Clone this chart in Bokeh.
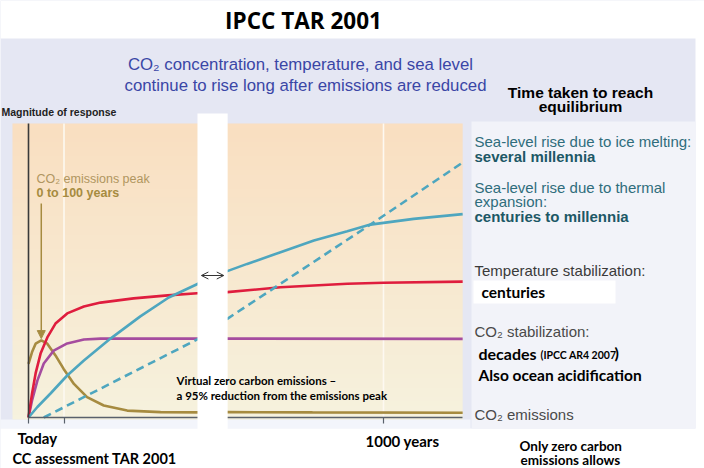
import numpy as np
from bokeh.plotting import figure
from bokeh.models import Range1d, BoxAnnotation, Label, Arrow, NormalHead, OpenHead, FixedTicker
from bokeh.embed import file_html
from bokeh.resources import INLINE

# ---------------- data (years after today, relative magnitude) ----------------
years_emissions = [0, 10, 20, 36, 53, 76, 99, 128, 165, 212, 278, 372, 485, 560, 800, 1223]
co2_emissions = [0.179, 0.218, 0.246, 0.257, 0.246, 0.207, 0.162, 0.112, 0.068, 0.040, 0.023,
                 0.018, 0.017, 0.018, 0.017, 0.016]

years_co2 = [0, 10, 25, 43, 71, 109, 156, 203, 485, 1223]
co2_concentration = [0, 0.057, 0.123, 0.18, 0.223, 0.247, 0.26, 0.263, 0.263, 0.262]

years_temp = [0, 10, 20, 34, 53, 76, 109, 156, 203, 296, 392, 485, 560, 710, 898, 1000, 1223]
temperature = [0, 0.08, 0.147, 0.213, 0.267, 0.313, 0.347, 0.37, 0.383, 0.397, 0.407, 0.415,
               0.418, 0.434, 0.446, 0.449, 0.453]

years_thermal = [0, 25, 62, 109, 156, 231, 315, 395, 485, 560, 616, 710, 804, 898, 963, 1085, 1223]
sea_level_thermal = [0, 0.035, 0.08, 0.14, 0.19, 0.263, 0.337, 0.40, 0.45, 0.488, 0.512, 0.551,
                     0.59, 0.621, 0.643, 0.662, 0.678]

years_ice = [43, 485, 560, 963, 1223]
sea_level_ice = [0, 0.266, 0.329, 0.643, 0.85]

tick_years = [0, 100, 1000]
axis_break = [476, 561]          # span of years hidden by the white break bar

# ---------------- layout helpers (picture pixels -> data) ----------------
W, H = 704, 468
X0_PX, PX_PER_YEAR = 28, 0.355
Y0_PX, PX_PER_UNIT = 417, 300.0


def xd(px):
    return (px - X0_PX) / PX_PER_YEAR


def yd(py):
    return (Y0_PX - py) / PX_PER_UNIT


year_end = max(years_emissions + years_co2 + years_temp + years_thermal + years_ice)
chart_top = yd(123)

OLIVE = "#a68b40"
RED = "#df1d3e"
PURPLE = "#a54c9f"
TEAL = "#4ea6bf"

p = figure(width=W, height=H, x_range=Range1d(xd(0), xd(W)), y_range=Range1d(yd(H), yd(0)),
           output_backend="svg", toolbar_location=None, min_border=0,
           background_fill_color="#e5e7f3", border_fill_color="white", outline_line_color=None)
p.grid.visible = False

# axes (ticks only, no numeric labels)
xa = p.xaxis[0]
xa.fixed_location = 0
xa.ticker = FixedTicker(ticks=[], minor_ticks=tick_years)
xa.bounds = (0, year_end)
xa.minor_tick_in = 0
xa.minor_tick_out = 6
xa.minor_tick_line_color = "#59606b"
xa.minor_tick_line_width = 1.2
xa.major_tick_line_color = None
xa.axis_line_color = "#59606b"
xa.axis_line_width = 1.6

ya = p.yaxis[0]
ya.fixed_location = 0
ya.ticker = FixedTicker(ticks=[])
ya.bounds = (0, chart_top)
ya.major_tick_line_color = None
ya.minor_tick_line_color = None
ya.axis_line_color = "#3a3a3a"
ya.axis_line_width = 1.6

# background panels
p.add_layout(BoxAnnotation(left=xd(0), right=xd(W), top=yd(0), bottom=yd(38), fill_color="white",
                           fill_alpha=1, line_color=None, level="underlay"))
p.add_layout(BoxAnnotation(left=xd(0), right=xd(470), top=yd(419), bottom=yd(428), fill_color="#f3f5fb",
                           fill_alpha=1, line_color=None, level="underlay"))
p.add_layout(BoxAnnotation(left=xd(0), right=xd(W), top=yd(428), bottom=yd(H), fill_color="white",
                           fill_alpha=1, line_color=None, level="underlay"))
p.add_layout(BoxAnnotation(left=xd(695), right=xd(W), top=yd(0), bottom=yd(H), fill_color="white",
                           fill_alpha=1, line_color=None, level="underlay"))
p.add_layout(BoxAnnotation(left=xd(471), right=xd(695), top=yd(121), bottom=yd(428), fill_color="#f2f3f9",
                           fill_alpha=1, line_color=None, level="underlay"))

# beige gradient behind the chart
n = 64
top_c = np.array([0xfa, 0xdf, 0xc1], dtype=float)
bot_c = np.array([0xf6, 0xf2, 0xde], dtype=float)
t = np.linspace(0, 1, n)[:, None]
rgb = bot_c * (1 - t) + top_c * t
img = np.zeros((n, 1), dtype=np.uint32)
view = img.view(dtype=np.uint8).reshape((n, 1, 4))
view[:, 0, 0:3] = rgb.astype(np.uint8)
view[:, 0, 3] = 255
p.image_rgba(image=[img], x=xd(12), y=yd(419), dw=year_end - xd(12), dh=chart_top - yd(419))

# faint vertical guide lines at 100 and 1000 years
guides = tick_years[1:]
p.segment(x0=guides, y0=[0] * len(guides), x1=guides, y1=[chart_top] * len(guides),
          line_color="#fdf9f1", line_width=1.6)

# curves
p.line(years_emissions, co2_emissions, line_color=OLIVE, line_width=2.6)
p.line(years_co2, co2_concentration, line_color=PURPLE, line_width=2.6)
p.line(years_temp, temperature, line_color=RED, line_width=2.6)
p.line(years_thermal, sea_level_thermal, line_color=TEAL, line_width=2.6)
p.line(years_ice, sea_level_ice, line_color=TEAL, line_width=2.6, line_dash="8 5")

# arrow to emissions peak
pk = int(np.argmax(co2_emissions))
p.add_layout(Arrow(x_start=years_emissions[pk], y_start=yd(203), x_end=years_emissions[pk],
                   y_end=co2_emissions[pk] + 0.006,
                   end=NormalHead(size=8, fill_color=OLIVE, line_color=OLIVE),
                   line_color=OLIVE, line_width=1.5))

# white axis-break bar
p.add_layout(BoxAnnotation(left=axis_break[0], right=axis_break[1], top=yd(113), bottom=yd(430),
                           fill_color="white", fill_alpha=1, line_color=None, level="annotation"))
p.add_layout(Arrow(x_start=axis_break[0] + 11, x_end=axis_break[1] - 11, y_start=yd(275), y_end=yd(275),
                   start=OpenHead(size=7, line_width=1, line_color="#333333"),
                   end=OpenHead(size=7, line_width=1, line_color="#333333"),
                   line_color="#333333", line_width=1, level="annotation"))

# white box behind "centuries"
p.add_layout(BoxAnnotation(left=xd(473), right=xd(615), top=yd(280), bottom=yd(303), fill_color="white",
                           fill_alpha=1, line_color=None, level="annotation"))


def label(text, px, py, size, font="Lato", style="bold", color="#000000", align="left"):
    p.add_layout(Label(x=xd(px), y=yd(py), text=text, text_font=font, text_font_size=f"{size}px",
                       text_font_style=style, text_color=color, text_align=align,
                       text_baseline="middle"))


ARIAL = "Liberation Sans"

label("IPCC TAR 2001", 303, 20, 22.5, font="Open Sans", align="center")
label("CO₂ concentration, temperature, and sea level", 300, 64, 16.8, font=ARIAL, style="normal",
      color="#3a46a6", align="center")
label("continue to rise long after emissions are reduced", 305, 85, 16.8, font=ARIAL, style="normal",
      color="#3a46a6", align="center")
label("Magnitude of response", 1, 111, 10.5, font=ARIAL, color="#222222")

label("CO₂ emissions peak", 36, 178, 12.5, font=ARIAL, style="normal", color="#b09660")
label("0 to 100 years", 36, 192, 12.5, font=ARIAL, style="bold", color="#a68b40")

label("Virtual zero carbon emissions \u2013", 176, 380, 11.5)
label("a 95% reduction from the emissions peak", 176, 395, 11.5)

label("Today", 17, 437, 15)
label("1000 years", 365, 440, 15)
label("CC assessment  TAR 2001", 12, 458, 14.5)

label("Time taken to reach", 580, 92, 15.5, font=ARIAL, align="center")
label("equilibrium", 580, 106, 15.5, font=ARIAL, align="center")

SEA = "#2f6d7c"
SEA_B = "#1d5866"
label("Sea-level rise due to ice melting:", 474, 141, 15, font=ARIAL, style="normal", color=SEA)
label("several millennia", 474, 156, 15, font=ARIAL, style="bold", color=SEA_B)
label("Sea-level rise due to thermal", 474, 187, 15, font=ARIAL, style="normal", color=SEA)
label("expansion:", 474, 201, 15, font=ARIAL, style="normal", color=SEA)
label("centuries to millennia", 474, 216, 15, font=ARIAL, style="bold", color=SEA_B)

label("Temperature stabilization:", 474, 270, 15, font=ARIAL, style="normal", color="#3a3a3a")
label("centuries", 481, 291, 15.5)

label("CO₂ stabilization:", 474, 331, 15, font=ARIAL, style="normal", color="#4a4a4a")
label("decades", 478, 353, 16)
label("(IPCC AR4 2007", 540, 354, 10.5)
label(")", 614, 352, 16)
label("Also ocean acidification", 478, 374, 15.5)

label("CO₂ emissions", 474, 414, 15, font=ARIAL, style="normal", color="#4a4a4a")
label("Only zero carbon", 519, 445, 13.5)
label("emissions allows", 520, 459, 13.5)

open("out.html", "w").write(file_html(p, INLINE))
